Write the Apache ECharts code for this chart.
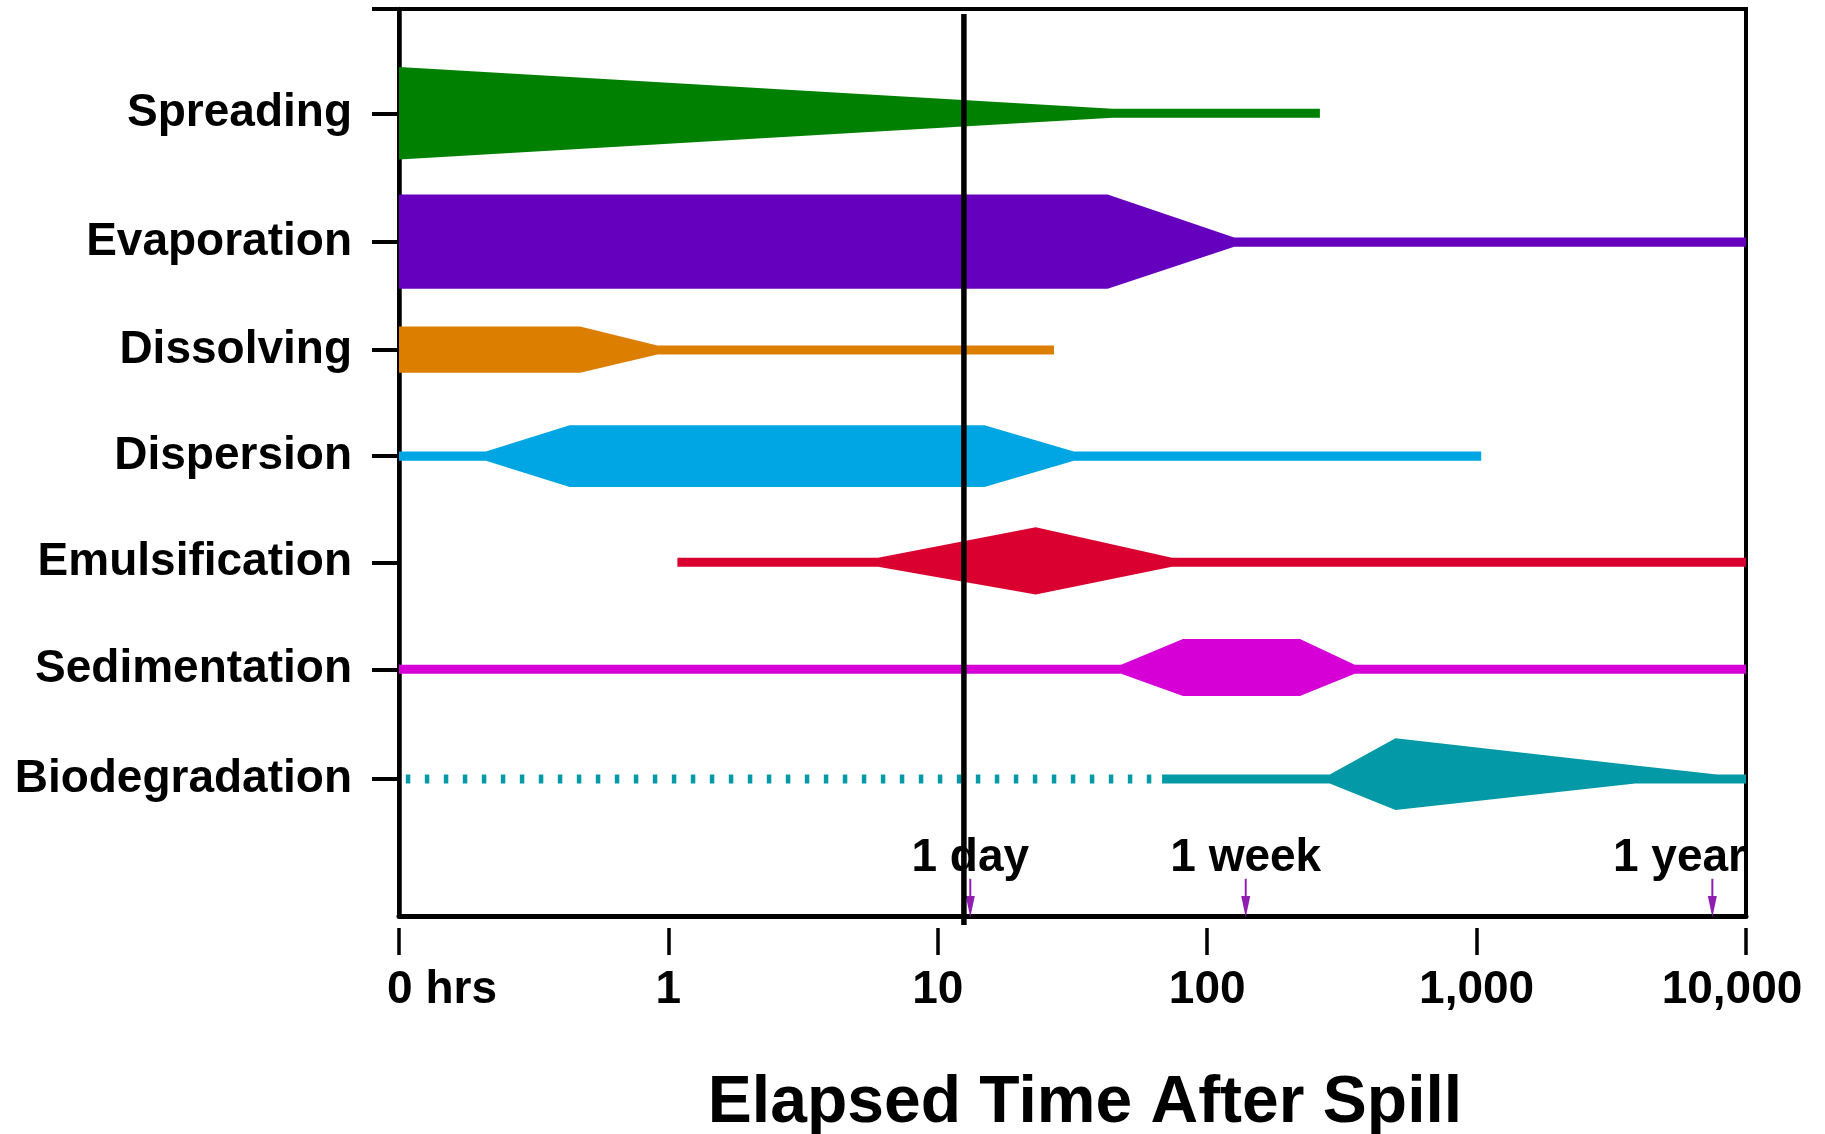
<!DOCTYPE html>
<html><head><meta charset="utf-8">
<script src="https://cdn.jsdelivr.net/npm/echarts@6/dist/echarts.min.js"></script>
<style>html,body{margin:0;padding:0;background:#fff}#c{width:1825px;height:1134px}</style>
</head><body><div id="c"></div>
<script>
// ---------- data ----------
const processNames = ['Spreading','Evaporation','Dissolving','Dispersion','Emulsification','Sedimentation','Biodegradation'];
const rowLevels = [88.5, 74.3, 62.4, 50.7, 39.0, 27.2, 15.1];
// each point: [hours after spill, upper half-thickness, lower half-thickness]
const spreading      = [[0.1,5.1,5.1],[44.5,0.5,0.5],[262,0.5,0.5]];
const evaporation    = [[0.1,5.25,5.15],[42.7,5.25,5.15],[126,0.5,0.5],[10000,0.5,0.5]];
const dissolving     = [[0.1,2.6,2.5],[0.47,2.6,2.5],[0.91,0.5,0.5],[27,0.5,0.5]];
const dispersion     = [[0.1,0.5,0.5],[0.21,0.5,0.5],[0.43,3.4,3.4],[14.9,3.4,3.4],[32,0.5,0.5],[1040,0.5,0.5]];
const emulsification = [[1.08,0.5,0.5],[6.0,0.5,0.5],[23.1,3.85,3.55],[74,0.5,0.5],[10000,0.5,0.5]];
const sedimentation  = [[0.1,0.5,0.5],[47.9,0.5,0.5],[81.3,3.35,2.95],[221,3.35,2.95],[353,0.5,0.5],[10000,0.5,0.5]];
const biodegradation = [[68,0.5,0.5],[285,0.5,0.5],[500,4.5,3.4],[3880,1.5,0.5],[7820,0.5,0.5],[10000,0.5,0.5]];
const biodegradationUncertain = [0.106, 65];   // dotted (onset uncertain) phase, hours
const xTickValues = [0.1, 1, 10, 100, 1000, 10000];
const xTickLabels = ['0 hrs', '1', '10', '100', '1,000', '10,000'];
const oneDayLineHours = 12.5;
const milestoneNames = ['1 day', '1 week', '1 year'];
const milestoneHours = [13.2, 139, 7500];

// ---------- styles ----------
const processColors = ['#008000','#6600BF','#DC7F00','#00A5E3','#DA0030','#D600D6','#0399A6'];
const arrowColor = '#8E1DB0';
const FONT = '"Liberation Sans", Arial, Helvetica, sans-serif';

const shapes = [spreading, evaporation, dissolving, dispersion, emulsification, sedimentation, biodegradation];

const measureCtx = document.createElement('canvas').getContext('2d');
measureCtx.font = 'bold 46px ' + FONT;

const series = [];
shapes.forEach((pts, i) => {
  series.push({
    type: 'custom', coordinateSystem: 'cartesian2d', silent: true, z: 2,
    data: [[pts[0][0], rowLevels[i]]],
    renderItem: (params, api) => {
      const top = pts.map(p => api.coord([p[0], rowLevels[i] + p[1]]));
      const bot = pts.slice().reverse().map(p => api.coord([p[0], rowLevels[i] - p[2]]));
      return { type: 'polygon', shape: { points: top.concat(bot) }, style: { fill: processColors[i] } };
    }
  });
});
series.push({
  type: 'line', silent: true, z: 2, symbol: 'none',
  data: biodegradationUncertain.map(h => [h, rowLevels[6]]),
  lineStyle: { color: processColors[6], width: 9, type: [4.5, 14.5], cap: 'butt' }
});
series.push({
  type: 'custom', coordinateSystem: 'cartesian2d', silent: true, z: 10, clip: false,
  data: [[oneDayLineHours, 0]],
  renderItem: (params, api) => {
    const a = api.coord([api.value(0), 99.45]);
    const b = api.coord([api.value(0), -1.0]);
    return { type: 'line', shape: { x1: a[0], y1: a[1], x2: b[0], y2: b[1] }, style: { stroke: '#000', lineWidth: 5.5 } };
  }
});
series.push({
  type: 'custom', coordinateSystem: 'cartesian2d', silent: true, z: 9, clip: false,
  data: milestoneHours.map(h => [h, 0]),
  renderItem: (params, api) => {
    const h = api.value(0);
    const name = milestoneNames[params.dataIndex];
    const top = api.coord([h, 4.1]);
    const headTop = api.coord([h, 2.2]);
    const tip = api.coord([h, -0.15]);
    const lab = api.coord([h, 6.35]);
    const cs = params.coordSys;
    const w = measureCtx.measureText(name).width;
    const lx = Math.min(lab[0], cs.x + cs.width - w / 2);
    return { type: 'group', children: [
      { type: 'line', shape: { x1: top[0], y1: top[1], x2: headTop[0], y2: headTop[1] }, style: { stroke: arrowColor, lineWidth: 2 } },
      { type: 'polygon', shape: { points: [[tip[0], tip[1]], [headTop[0] - 4.5, headTop[1]], [headTop[0] + 4.5, headTop[1]]] }, style: { fill: arrowColor } },
      { type: 'text', style: { text: name, x: lx, y: lab[1], align: 'center', verticalAlign: 'middle', textAlign: 'center', textVerticalAlign: 'middle',
          fontSize: 46, fontWeight: 'bold', fontFamily: FONT, fill: '#000' } }
    ]};
  }
});

const tickLabelStyle = { fontSize: 46, fontWeight: 'bold', color: '#000', fontFamily: FONT };

const chart = echarts.init(document.getElementById('c'), null, { renderer: 'canvas' });
chart.setOption({
  animation: false,
  backgroundColor: '#fff',
  title: {
    text: 'Elapsed Time After Spill', left: 1085, top: 1104, padding: 0,
    textAlign: 'center', textVerticalAlign: 'middle',
    textStyle: { fontSize: 66, fontWeight: 'bold', color: '#000', fontFamily: FONT }
  },
  grid: { left: 399, top: 9, right: 79, bottom: 218, show: true, borderColor: '#000', borderWidth: 4, backgroundColor: 'transparent' },
  xAxis: [
    { type: 'log', logBase: 10, min: 0.1, max: 10000, position: 'bottom',
      axisLine: { show: true, lineStyle: { color: '#000', width: 5 } },
      axisTick: { show: false }, axisLabel: { show: false }, splitLine: { show: false }, minorTick: { show: false } },
    { type: 'log', logBase: 10, min: 0.1, max: 10000, position: 'bottom', offset: 12,
      axisLine: { show: false },
      axisTick: { show: true, length: 27, lineStyle: { color: '#000', width: 3.5 } },
      axisLabel: { show: true, margin: 39, fontSize: 46, fontWeight: 'bold', color: '#000', fontFamily: FONT,
        rich: {
          first: Object.assign({ padding: [0, 0, 0, 86] }, tickLabelStyle),
          last: Object.assign({ padding: [0, 28, 0, 0] }, tickLabelStyle)
        },
        formatter: v => {
          let k = 0, d = Infinity;
          xTickValues.forEach((t, j) => { const e = Math.abs(Math.log10(t) - Math.log10(v)); if (e < d) { d = e; k = j; } });
          if (k === 0) return '{first|' + xTickLabels[k] + '}';
          if (k === xTickValues.length - 1) return '{last|' + xTickLabels[k] + '}';
          return xTickLabels[k];
        } },
      splitLine: { show: false }, minorTick: { show: false } }
  ],
  yAxis: {
    type: 'value', min: 0, max: 100,
    axisLine: { show: true, lineStyle: { color: '#000', width: 4.5 } },
    axisTick: { show: true, customValues: rowLevels.concat([100]), length: 27, lineStyle: { color: '#000', width: 4 } },
    axisLabel: { show: true, customValues: rowLevels, margin: 47, fontSize: 46, fontWeight: 'bold', color: '#000', fontFamily: FONT,
      formatter: v => { let k = 0, d = Infinity; rowLevels.forEach((r, j) => { const e = Math.abs(r - v); if (e < d) { d = e; k = j; } }); return processNames[k]; } },
    splitLine: { show: false }
  },
  series: series
});
</script>
</body></html>
